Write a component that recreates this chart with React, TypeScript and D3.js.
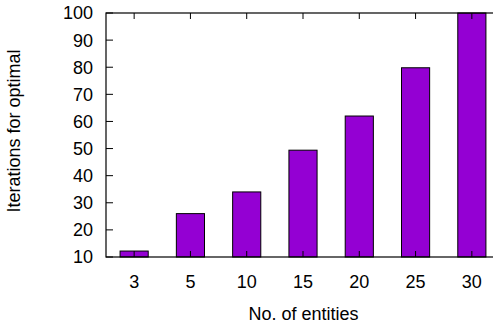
import React from "react";
import * as d3 from "d3";

const categories = ["3", "5", "10", "15", "20", "25", "30"];
const values = [12.2, 26, 34, 49.4, 62, 79.8, 100];
const yTicks = [10, 20, 30, 40, 50, 60, 70, 80, 90, 100];

const W = 493;
const H = 326;
const M = { left: 106, top: 13, right: 500, bottom: 257 };
const FONT = "'Liberation Sans', Arial, Helvetica, sans-serif";
const FS = 18;

export default function App() {
  const x = d3
    .scaleBand<string>()
    .domain(categories)
    .range([M.left, M.right])
    .paddingInner(0)
    .paddingOuter(0);
  const y = d3.scaleLinear().domain([10, 100]).range([M.bottom, M.top]);
  const bw = x.bandwidth() * 0.5;

  return (
    <svg
      width={W}
      height={H}
      style={{ position: "absolute", left: 0, top: 0, background: "#fff" }}
      fontFamily={FONT}
    >
      {categories.map((c, i) => {
        const cx = (x(c) as number) + x.bandwidth() / 2;
        return (
          <rect
            key={c}
            x={cx - bw / 2}
            y={y(values[i])}
            width={bw}
            height={y(10) - y(values[i])}
            fill="#9400d3"
            stroke="#000"
            strokeWidth={1}
          />
        );
      })}
      {yTicks.map((t) => (
        <g key={t}>
          <line x1={M.left} x2={M.left + 7} y1={y(t)} y2={y(t)} stroke="#000" strokeWidth={1} />
          <text
            x={M.left - 13}
            y={y(t)}
            dy="0.36em"
            textAnchor="end"
            fontSize={FS}
            fill="#000"
          >
            {t}
          </text>
        </g>
      ))}
      {categories.map((c) => {
        const cx = (x(c) as number) + x.bandwidth() / 2;
        return (
          <g key={c}>
            <line x1={cx} x2={cx} y1={M.top} y2={M.top + 6} stroke="#000" strokeWidth={1} />
            <line x1={cx} x2={cx} y1={M.bottom} y2={M.bottom - 6} stroke="#000" strokeWidth={1} />
            <text x={cx} y={287.5} textAnchor="middle" fontSize={FS} fill="#000">
              {c}
            </text>
          </g>
        );
      })}
      <rect
        x={M.left}
        y={M.top}
        width={M.right - M.left}
        height={M.bottom - M.top}
        fill="none"
        stroke="#000"
        strokeWidth={1.2}
      />
      <text x={303.5} y={320} textAnchor="middle" fontSize={FS} fill="#000">
        No. of entities
      </text>
      <text
        transform={`translate(20,131) rotate(-90)`}
        textAnchor="middle"
        fontSize={FS}
        fill="#000"
      >
        Iterations for optimal
      </text>
    </svg>
  );
}
